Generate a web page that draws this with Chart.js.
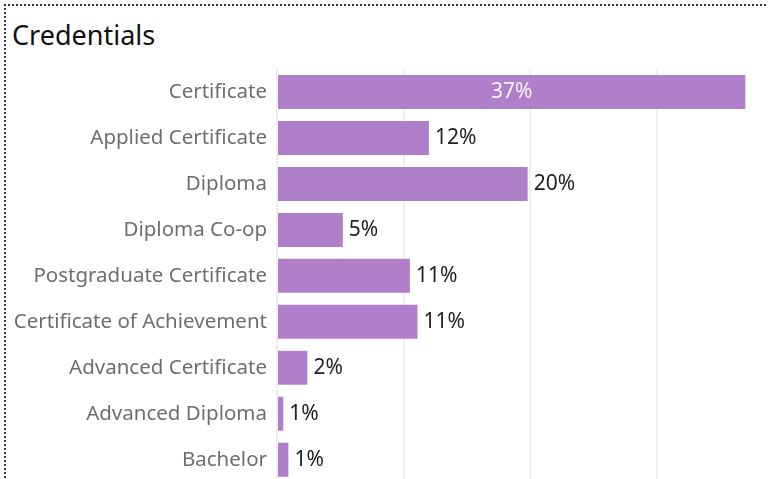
<!DOCTYPE html>
<html>
<head>
<meta charset="utf-8">
<script src="https://cdn.jsdelivr.net/npm/chart.js@4/dist/chart.umd.min.js"></script>
<style>
  html, body { margin: 0; padding: 0; background: #fff; overflow: hidden; }
  .frame {
    position: absolute; left: 4px; top: 4px; width: 800px; height: 500px;
    border-left: 2px dotted #333; border-top: 2px dotted #333;
  }
  .title {
    position: absolute; left: 12px; top: 16px;
    font-family: "Noto Sans", sans-serif; font-size: 27px; color: #111;
  }
  .wrap { position: absolute; left: 0; top: 0; width: 768px; height: 505px; }
</style>
</head>
<body>
<div class="frame"></div>
<div class="title">Credentials</div>
<div class="wrap"><canvas id="chart"></canvas></div>
<script>
const categories = [
  'Certificate',
  'Applied Certificate',
  'Diploma',
  'Diploma Co-op',
  'Postgraduate Certificate',
  'Certificate of Achievement',
  'Advanced Certificate',
  'Advanced Diploma',
  'Bachelor'
];
const shares = [37.0, 12.0, 19.8, 5.2, 10.5, 11.1, 2.4, 0.5, 0.9];
const gridTicks = [0, 10, 20, 30];

const barColor = '#b07fca';

// percent labels: inside the long bar, to the right of the others
const valueLabels = {
  id: 'valueLabels',
  afterDatasetsDraw(chart) {
    const ctx = chart.ctx;
    const meta = chart.getDatasetMeta(0);
    ctx.save();
    ctx.font = '21px "Noto Sans", sans-serif';
    ctx.textBaseline = 'middle';
    meta.data.forEach((bar, i) => {
      const text = Math.round(shares[i]) + '%';
      if (shares[i] > 30) {
        ctx.fillStyle = 'rgba(255,255,255,0.9)';
        ctx.textAlign = 'center';
        ctx.fillText(text, (bar.base + bar.x) / 2, bar.y);
      } else {
        ctx.fillStyle = '#222';
        ctx.textAlign = 'left';
        ctx.fillText(text, bar.x + 6, bar.y);
      }
    });
    ctx.restore();
  }
};

new Chart(document.getElementById('chart'), {
  type: 'bar',
  data: {
    labels: categories,
    datasets: [{
      data: shares,
      backgroundColor: barColor,
      borderWidth: 0,
      categoryPercentage: 1,
      barPercentage: 0.74
    }]
  },
  options: {
    indexAxis: 'y',
    responsive: true,
    maintainAspectRatio: false,
    animation: false,
    layout: { padding: { top: 69, right: 10, left: 0, bottom: 0 } },
    plugins: {
      legend: { display: false },
      tooltip: { enabled: false }
    },
    scales: {
      x: {
        min: 0,
        max: 38,
        afterBuildTicks: scale => { scale.ticks = gridTicks.map(v => ({ value: v })); },
        ticks: { display: false },
        border: { display: false },
        grid: { color: '#eeeeee', lineWidth: 2, drawTicks: false }
      },
      y: {
        afterFit: scale => { scale.width = 277; },
        ticks: {
          color: '#6e6e6e',
          padding: 10,
          font: { family: '"Noto Sans", sans-serif', size: 20.5 }
        },
        border: { display: false },
        grid: { display: false, drawTicks: false }
      }
    }
  },
  plugins: [valueLabels]
});
</script>
</body>
</html>
